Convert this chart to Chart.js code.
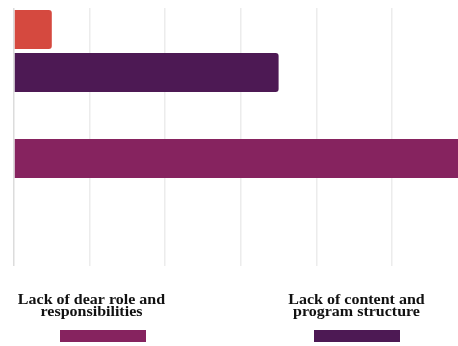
<!DOCTYPE html>
<html><head><meta charset="utf-8">
<script src="https://cdn.jsdelivr.net/npm/chart.js@4"></script>
<style>html,body{margin:0;padding:0;background:#fff;overflow:hidden}#wrap{width:458px;height:346px;position:relative}</style>
</head><body><div id="wrap"><canvas id="c"></canvas></div>
<script>
// Rows of the (unlabelled) category axis
const categories = ['A', 'B', 'C', 'D', 'E', 'F'];
// Series
const seriesNames = ['', 'Lack of content and program structure', 'Lack of dear role and responsibilities'];
const redValues = [0.5, null, null, null, null, null];
const contentValues = [null, 3.5, null, null, null, null];
const roleValues = [null, null, null, 6.2, null, null];
const xTickValues = [0, 1, 2, 3, 4, 5];
const seriesColors = ['#D5493F', '#4D1954', '#86235F'];

const legendLayout = [
  { ds: 2, textX: 91.5, boxX: 60 },
  { ds: 1, textX: 356.5, boxX: 314 }
];

function wrapText(ctx, text, maxW) {
  const words = text.split(' ');
  const lines = [];
  let cur = '';
  for (const w of words) {
    const t = cur ? cur + ' ' + w : w;
    if (ctx.measureText(t).width > maxW && cur) { lines.push(cur); cur = w; }
    else cur = t;
  }
  if (cur) lines.push(cur);
  return lines;
}

const bottomLegend = {
  id: 'bottomLegend',
  afterDraw(chart) {
    const ctx = chart.ctx;
    ctx.save();
    ctx.font = 'bold 16px "Liberation Serif", "Times New Roman", serif';
    ctx.fillStyle = '#111';
    ctx.textAlign = 'center';
    ctx.textBaseline = 'alphabetic';
    for (const item of legendLayout) {
      const ds = chart.data.datasets[item.ds];
      const lines = wrapText(ctx, ds.label, 158);
      lines.forEach((ln, i) => {
        ctx.save();
        ctx.translate(item.textX, 303.5 + i * 12.5);
        ctx.scale(1, 0.85);
        ctx.fillText(ln, 0, 0);
        ctx.restore();
      });
      ctx.fillStyle = ds.backgroundColor;
      ctx.fillRect(item.boxX, 330, 86, 12);
      ctx.fillStyle = '#111';
    }
    ctx.restore();
  }
};

new Chart(document.getElementById('c'), {
  type: 'bar',
  data: {
    labels: categories,
    datasets: [
      { label: seriesNames[0], data: redValues, backgroundColor: seriesColors[0] },
      { label: seriesNames[1], data: contentValues, backgroundColor: seriesColors[1] },
      { label: seriesNames[2], data: roleValues, backgroundColor: seriesColors[2] }
    ]
  },
  options: {
    indexAxis: 'y',
    responsive: true,
    maintainAspectRatio: false,
    animation: false,
    layout: { padding: { left: 14, top: 8, right: 0, bottom: 80 } },
    datasets: { bar: { categoryPercentage: 1, barPercentage: 0.907, borderRadius: 3, borderSkipped: 'start' } },
    plugins: { legend: { display: false }, tooltip: { enabled: false } },
    scales: {
      x: {
        type: 'linear', min: 0, max: 5.873, stacked: true,
        afterBuildTicks(scale) { scale.ticks = xTickValues.map(v => ({ value: v })); },
        ticks: { display: false },
        grid: { drawTicks: false, color: c => (c.tick && c.tick.value === 0) ? '#dcdcdc' : '#ececec', lineWidth: 1.5 },
        border: { display: false }
      },
      y: {
        stacked: true,
        ticks: { display: false },
        grid: { display: false, drawTicks: false },
        border: { display: false }
      }
    }
  },
  plugins: [bottomLegend]
});
</script>
</body></html>
